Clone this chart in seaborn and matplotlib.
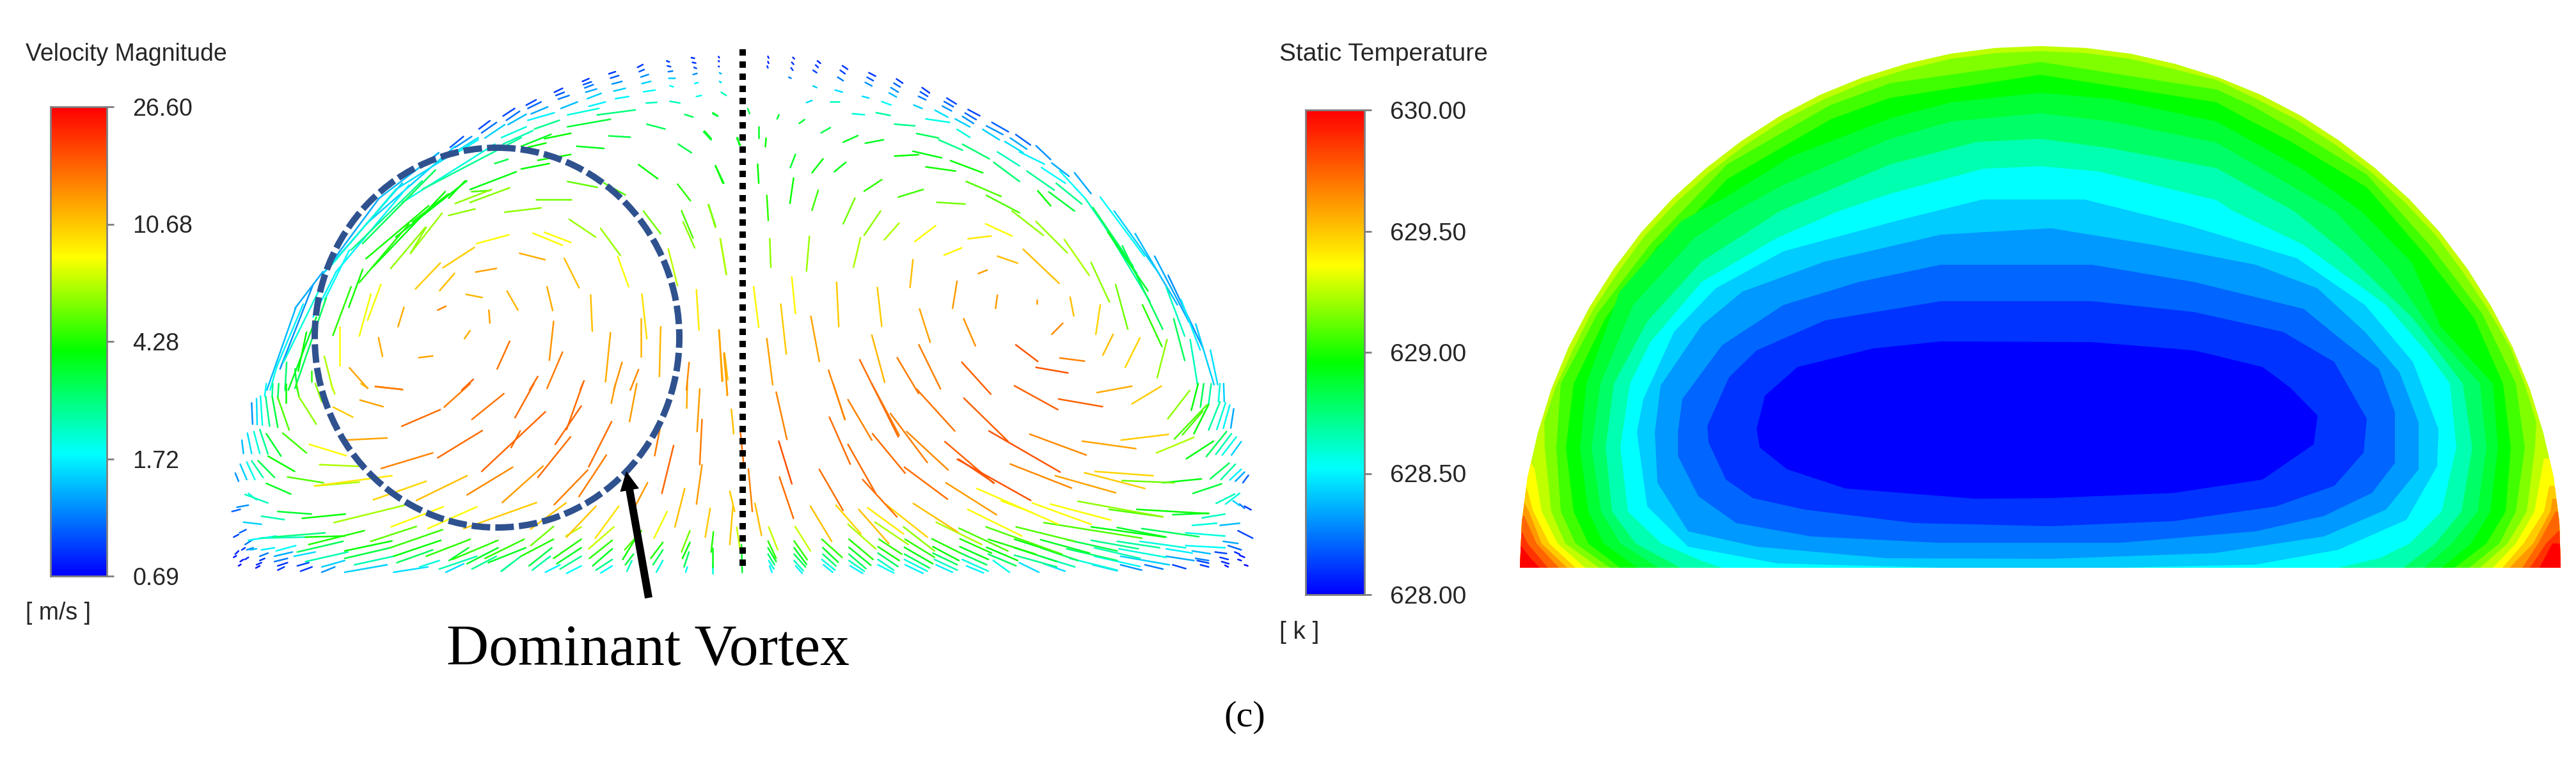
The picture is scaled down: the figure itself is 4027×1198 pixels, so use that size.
import numpy as np
import pandas as pd
import matplotlib
matplotlib.use('Agg')
import matplotlib.pyplot as plt
from matplotlib.colors import LinearSegmentedColormap, LogNorm
from matplotlib.patches import Ellipse, Polygon
import seaborn as sns

W, H = 4027, 1198

vel_ticks = ['26.60', '10.68', '4.28', '1.72', '0.69']
temp_ticks = ['630.00', '629.50', '629.00', '628.50', '628.00']
vel_min, vel_max = 0.69, 26.60

vec_lower_right = [
(85,40,118,262,14.6),(93,270,133,470,18.6),(95,438,138,632,16),(0,400,12,600,14.6),(20,562,40,712,11),(62,672,90,780,7),
(143,670,190,785,7),(190,575,255,740,11),
(60,738,85,820,4.5),(60,770,85,835,3.5),(60,800,80,850,2.8),(62,830,78,870,2),(65,855,72,885,1.7),
(140,738,180,826,4.6),(140,770,178,848,3.6),(140,800,175,860,3),(140,830,168,878,2.2),(145,855,165,890,1.7),
(225,730,287,815,4.6),(228,770,275,838,3.6),(228,800,268,855,2.8),(225,825,265,875,2),(230,850,258,885,1.7),
(308,730,382,825,4.4),(308,768,375,852,3.6),(308,800,360,868,3),(308,830,355,880,2.2),(312,855,350,890,1.7),
(400,730,470,800,4.6),(397,765,462,830,4.2),(397,795,458,858,3),(397,825,445,875,2.2),(397,850,445,888,1.8),
(480,730,570,815,4.5),(478,768,565,845,3.8),(478,800,555,865,3),(478,825,548,880,2),(480,850,535,890,1.7),
(562,728,650,795,4.4),(565,765,645,830,3.9),(565,795,640,850,3),(570,825,640,875,2.2),(575,850,625,885,1.7),
(648,728,745,795,4.3),(648,765,735,825,3.8),(650,795,730,850,3),(655,825,735,880,2),(668,855,720,888,1.7),
(735,730,880,800,4.3),(730,768,825,830,3.9),(735,800,820,855,3),(750,830,800,885,1.9),
(815,730,960,800,3.8),(815,770,945,835,3.3),(815,805,945,860,2.6),(830,840,890,885,1.6),
(895,732,1045,795,3.6),(895,770,1010,830,3.1),(895,810,1000,860,2.3),(905,845,970,880,1.6),
(975,732,1130,785,3.2),(975,775,1130,830,2.8),(985,820,1130,875,2),(1055,850,1130,878,1.5),
(1050,735,1195,775,2.6),(1060,770,1200,820,2.3),(1060,810,1200,858,1.8),(1140,850,1205,875,1.2),
(1130,740,1260,770,2.4),(1135,775,1280,815,2),(1140,810,1290,850,1.5),(1215,850,1270,870,1.1),
(1200,740,1340,770,2),(1280,775,1360,795,1.7),(1280,810,1365,830,1.3),(1300,850,1340,868,.9),
(1340,760,1460,770,1.8),(1360,785,1415,798,1.4),(1370,820,1410,830,1.1),(1375,830,1410,842,.9),(1385,850,1410,860,.85),
(1455,740,1500,750,1.3),(1470,760,1510,780,1),(1430,790,1465,797,.9),(1445,815,1470,825,.85),(1450,835,1472,845,.8),(1460,852,1470,860,.75),
(1490,790,1505,800,.8),(1505,805,1520,815,.75),(1500,825,1510,830,.75),(1520,850,1530,855,.72),
(305,660,390,775,6.5),(338,590,430,750,11),(365,582,475,705,9),(388,650,490,755,6.5),(420,565,548,720,10),(475,672,570,785,6),
(505,562,640,695,11),(575,650,715,755,6.5),(645,678,795,785,5),(672,590,838,715,8.25),(728,672,960,800,5),(820,672,1000,740,5),
(905,652,1205,725,5),(1050,672,1275,720,3.8),(1130,675,1280,720,3.6),(1205,680,1380,718,3),(1340,700,1460,715,2),(1360,665,1435,655,2),(1445,665,1505,655,1.4),
(268,570,345,705,10),(350,450,455,625,16),(1010,552,1270,625,6),(1105,590,1270,625,5),(1190,590,1410,610,4),(1300,615,1410,608,3.5),(1390,630,1460,612,2.2),
(605,465,760,615,13),(700,492,950,660,8.25),(775,550,870,605,8),(870,560,1050,660,8.25),(925,565,1110,640,8.25),(640,355,865,548,18),(478,392,610,542,16),
(217,402,290,595,16),(305,285,390,515,16),(380,235,480,420,16),(248,157,312,378,16),(305,75,378,265,14.6),(260,0,295,168,13),(378,0,462,242,15),(435,140,548,370,15),
(485,225,612,405,14),(515,25,632,222,15.5),(602,272,752,468,17),(660,68,795,270,17),(737,222,955,415,18),(815,10,948,122,17),(950,72,1085,108,17),(1068,42,1175,12,12),
(1175,95,1265,12,10.5),(862,237,1035,335,14),(1023,270,1187,305,12.5),(802,377,990,490,14),(940,432,1125,512,12.5),(1030,418,1215,492,10.5),(1062,412,1240,432,10),
(1142,265,1287,238,10.5),(1250,325,1365,252,6.5),(1285,165,1352,32,6),(1145,455,1305,465,5.5),(1270,465,1388,447,3.8),(1305,260,1405,100,5),(1330,240,1392,130,5),
(1365,235,1410,98,4),(1342,352,1425,270,3.8),(1403,342,1465,225,3),(1432,332,1480,235,2.3),(1452,335,1495,250,1.9),(1480,335,1510,272,1.5),(1410,218,1445,85,2.4),
(1435,215,1462,90,2),(1455,210,1475,100,1.7),(1478,208,1487,118,1.3),(1357,125,1378,0,4),(1385,110,1395,0,3),(1410,95,1418,0,2.4),(1440,85,1445,0,2),(1458,85,1456,0,1.5),
(1362,515,1450,470,3.4),(1415,447,1473,373,3),(1448,450,1492,378,2.4),(1475,452,1510,402,1.7),(1492,458,1520,415,1.3),(1515,465,1532,430,1),(1433,562,1490,518,2.2),
(1462,565,1505,515,2),(1485,550,1505,572,1.5),(1505,565,1520,585,1.1),(1520,575,1540,592,.85),(645,355,752,465,17.5),(1500,690,1545,725,.9),
]

vec_upper_right = [
(175,15,177,20,.8),(175,30,177,35,.8),(173,43,175,48,.85),(243,18,247,22,.8),(240,32,245,38,.85),(238,48,243,55,.9),(232,75,238,78,1.1),
(310,28,318,35,.8),(305,40,312,47,.85),(298,55,308,62,.9),(298,100,308,105,1.5),(378,42,392,52,.85),(372,55,385,65,.9),(365,75,380,85,1.1),(358,112,378,118,1.6),
(450,62,468,72,.85),(445,75,462,85,.95),(440,90,458,100,1.2),(432,130,450,135,1.6),(405,180,438,183,2),(525,80,542,92,.85),(518,92,535,103,1),(510,105,530,118,1.2),(505,120,525,132,1.4),(485,145,510,155,1.8),
(595,105,615,120,.85),(590,117,610,130,.95),(585,130,605,140,1.1),(572,155,595,165,1.5),(662,135,688,152,.9),(655,145,680,160,1),(650,158,675,172,1.2),(630,170,665,190,1.6),
(720,168,752,186,.9),(712,178,742,197,1),(705,188,735,208,1.2),(685,195,725,218,1.5),(785,205,830,232,1),(770,215,815,240,1.2),(760,225,805,255,1.5),(850,240,890,270,1),(835,250,880,282,1.3),(820,260,870,292,1.6),
(670,205,605,195,1.9),(575,215,520,210,2.6),(640,250,580,237,3),(705,285,640,255,2.6),(490,255,440,265,3.6),(420,243,380,262,3.7),
(345,220,320,235,3.2),(275,197,260,208,3.4),(205,183,200,195,3.4),(120,165,125,180,3.2),(90,250,100,270,3.8),(150,218,150,250,3.6),(170,250,168,275,4),(25,180,38,187,3),(0,232,20,255,3.5),(370,145,345,145,2.2),(295,142,280,148,1.6),(508,185,470,177,2.4),
(725,248,690,225,2),(778,310,705,268,2.8),(648,307,570,288,3.8),(585,298,520,302,4),
(945,312,905,272,1.2),(928,325,860,290,1.7),(860,330,800,290,2.2),(995,360,948,322,1.3),(985,380,920,335,1.8),(955,400,880,345,2.5),(860,375,790,320,2.8),
(760,350,672,315,4),(686,345,605,333,4.2),(1055,410,1010,350,1.3),(1040,425,970,345,1.8),(1030,440,960,380,2.6),(1010,460,940,405,3.4),(945,445,910,402,4),(810,418,715,375,5),(598,398,530,420,4.8),
(485,370,437,403,4.5),(387,320,356,347,3.8),(325,310,295,350,4),(250,297,236,335,3.5),(147,325,150,380,4),(32,330,55,380,3.8),
(712,440,635,435,5.5),(860,465,770,415,5),(925,530,840,460,6),(990,580,905,490,6.2),(1050,645,982,542,6.5),(1105,722,1055,608,6),(1155,800,1122,672,5.5),(1248,850,1195,730,4.5),
(1118,460,1240,640,1.5),(1175,525,1290,730,1.4),(1228,590,1322,780,1.3),(1265,645,1360,855,1.2),(1080,420,1200,590,1.8),(1040,425,1180,640,2.2),(1090,500,1215,720,2.4),(1060,450,1170,620,3),
(1140,560,1250,800,3),(1100,520,1210,690,3.6),(1260,680,1310,820,2.2),(1300,715,1352,860,1.7),(1340,785,1390,960,1.5),(1280,770,1310,890,3),(1325,830,1345,960,2.2),(1380,860,1400,960,1.6),
(800,590,855,610,11),(870,570,968,668,11),(768,497,840,532,8.25),(632,502,575,548,8.25),(720,540,783,532,9),(655,587,703,566,8.5),(532,495,492,543,6.5),(482,460,437,530,6),(412,423,380,497,5.5),
(312,400,295,458,4.8),(245,365,235,438,4),(172,415,176,487,4.5),(13,443,32,507,6),(427,537,408,622,6.5),(288,533,280,633,6.2),(180,540,183,622,6),(45,540,62,643,6.5),(570,600,562,680,11),
(136,678,150,795,8.5),(240,650,250,755,8.5),(362,665,368,793,10.5),(473,680,485,792,10.5),(690,662,678,740,13),(748,640,772,630,13),(800,702,795,740,13),(908,716,908,726,13),(998,708,1008,762,11),
(1080,730,1068,815,10),(978,783,948,815,14),(708,770,740,848,13.5),(588,742,617,838,12.5),(210,728,225,872,10.5),(292,763,315,893,12.5),(42,802,50,950,12.5),(55,870,65,990,13),(172,827,188,960,12.5),
(458,817,493,953,11.5),(425,888,530,1110,16),(586,845,645,972,15),(527,882,585,985,15),(703,895,782,987,17),(850,845,910,893,18),(905,910,992,926,18),(970,883,1037,892,14.5),(1115,815,1087,875,11),
(1188,825,1148,910,10),(1235,940,1262,830,6),(340,918,385,1060,14.5),(100,1095,110,1200,16),(90,1370,100,1440,7),(103,1420,105,1500,3.5),
]

vec_lower_left = [
(1500,695,1493,790,4.4),(1497,770,1497,860,3.8),(1497,850,1497,890,2),(1428,690,1402,790,5.5),(1428,745,1405,820,4),(1425,790,1410,860,3),(1420,860,1415,885,1.8),
(1358,600,1318,725,8),(1345,745,1308,820,4.3),(1345,780,1315,850,3),(1345,830,1325,885,2),(1490,585,1475,720,10.5),(1560,570,1550,755,10.8),(1412,492,1382,672,11),(1550,505,1565,600,10.5),
(1280,690,1228,780,5),(1258,735,1222,825,4.2),(1255,800,1230,850,3.4),(1250,830,1235,880,2.2),(1210,575,1138,725,9.5),(1195,672,1118,775,7),(1190,735,1120,820,4.5),(1190,775,1130,855,3.6),(1190,825,1140,875,2.6),(1190,855,1155,888,1.8),
(1095,672,1048,715,7),(1140,575,1050,720,10.8),(1095,730,1010,820,4.4),(1095,770,1020,845,3.6),(1095,810,1030,870,2.6),(1095,855,1050,890,1.8),
(1010,670,940,760,5.5),(1010,730,910,810,4.4),(1005,770,935,855,3.2),(1000,810,945,875,2.4),(1030,850,985,885,1.7),(920,730,800,820,4.6),(925,770,810,840,3.6),(910,810,850,880,2.6),
(840,735,700,825,4.5),(840,770,745,845,3.6),(835,810,760,870,2.5),(880,845,850,880,1.6),(755,730,620,810,4.5),(750,770,690,830,3.4),(775,810,660,870,2.3),(735,845,680,885,1.6),
(670,685,510,770,4.6),(665,735,520,810,4),(640,780,530,840,3),(660,830,600,860,2),(625,860,520,885,1.6),(590,670,450,740,5.2),(515,738,370,785,4),(510,770,370,820,3.3),(520,810,400,850,2.3),(500,850,370,885,1.5),
(430,690,260,755,4.3),(370,715,250,720,4),(365,740,225,790,3),(380,790,250,835,2.3),(370,830,300,860,1.5),(340,860,300,885,1.2),(310,700,150,720,2.7),(250,720,110,725,2.2),(160,715,75,735,1.8),
(220,760,160,785,1.8),(280,790,215,810,1.6),(260,840,225,855,.9),(270,860,235,880,.85),(90,730,65,755,1.1),(155,770,115,780,1.7),(100,775,80,780,1.4),(210,790,155,810,1.3),(195,820,155,835,1.1),
(195,840,165,855,.85),(185,860,165,875,.85),(135,795,110,810,1.1),(90,770,70,780,1.2),
(110,830,125,820,.85),(100,850,115,840,.8),(98,865,110,855,.75),(35,800,45,785,.8),(55,780,65,770,.85),(30,815,38,808,.75),(50,835,60,825,.75),(65,825,75,815,.8),(45,855,52,848,.72),
(30,720,45,708,.9),(48,700,68,685,1),(115,660,60,650,1.5),(185,638,115,622,2.3),
(205,518,130,468,3.6),(268,612,165,600,3.5),(372,612,240,632,4),(555,570,337,652,6.3),(415,462,280,480,6.5),(305,465,195,438,5),(217,412,135,340,4),(155,440,105,362,3.2),(120,440,85,362,2.4),(95,450,70,368,1.9),
(70,450,50,378,1.5),(45,458,35,420,1.2),(135,560,65,520,2.2),(100,545,75,515,2),(75,570,40,580,1.2),(50,590,25,600,1),(175,340,130,235,3.5),(135,330,110,215,2.5),(110,328,92,225,2),(85,328,72,232,1.6),(60,328,55,265,1.4),
(253,325,180,232,4.8),(375,338,262,285,8.25),(415,388,293,380,6.5),(515,432,277,480,9),(620,458,458,545,10),(745,432,590,548,11),(885,392,745,522,14),(978,387,853,558,13),(958,558,735,680,10.5),(1048,560,940,682,10.8),
(775,578,625,680,8.25),(672,578,512,672,8.25),(640,325,482,398,14.6),(792,220,655,348,16),(663,122,545,200,16),(500,255,370,265,12.5),(858,47,760,168,15.5),(755,0,675,110,15),(950,0,892,160,16),(985,132,790,412,16.5),
(908,222,880,300,16),(1095,105,1015,285,16.5),(1100,0,1050,215,16),(1062,250,962,440,16),(1188,178,1118,390,16),(1172,335,1088,530,15),(1115,405,1012,568,15),(1200,0,1187,92,13),(1265,0,1243,178,13),(1340,180,1320,338,15),
(1378,290,1342,515,16.5),(1298,465,1262,570,13),(1458,25,1450,225,13),(1465,168,1458,380,15),(1465,380,1448,565,13),(1420,0,1418,115,12),(1540,0,1542,55,12),(1555,120,1562,235,11),
(440,20,420,0,11),(548,28,465,13,14.6),(488,108,417,77,12.5),(395,157,335,110,10.5),(283,190,230,62,6),(200,218,165,65,5),(165,205,148,60,3.3),(140,200,128,60,2.6),(118,195,112,58,1.9),(102,192,100,70,1.6),(88,190,85,90,1.2),
(340,48,328,0,7),(300,85,280,0,6),(230,60,222,0,4.8),(190,90,190,0,4),(165,70,168,0,3),(148,60,150,0,2.5),(125,58,130,0,1.8),
]

vec_upper_left = [
(1497,25,1499,30,.8),(1497,45,1499,48,.8),(1497,70,1499,72,.85),(1500,100,1505,105,1.4),(1415,30,1424,33,.8),(1418,52,1428,55,.85),(1423,75,1430,80,.9),(1420,108,1432,103,1.2),
(1340,45,1348,50,.85),(1342,68,1352,72,.9),(1345,95,1358,92,1.1),(1345,125,1365,125,1.5),(1252,75,1268,62,.85),(1257,95,1272,85,.95),(1262,120,1285,108,1.2),(1265,150,1292,140,1.5),(1270,188,1305,180,1.8),
(1165,105,1185,95,.85),(1170,125,1195,113,.95),(1175,152,1205,140,1.2),(1180,185,1215,172,1.5),(1185,220,1225,210,1.7),(1085,140,1105,127,.85),(1088,155,1112,142,.95),(1092,170,1118,155,1.1),(1095,190,1128,175,1.3),(1100,220,1142,195,1.5),
(1000,190,1025,172,.85),(1005,205,1030,190,.95),(1012,222,1045,205,1.1),(1020,265,1070,235,1.4),(915,250,945,225,.9),(920,265,960,235,1),(930,290,980,258,1.3),(920,320,1000,285,1.7),
(845,300,880,265,.9),(855,320,895,278,1.05),(860,340,915,292,1.4),(772,360,805,322,.9),(780,378,825,330,1.05),(790,402,850,340,1.5),
(1360,165,1350,160,1.8),(1435,145,1425,150,1.7),(1500,140,1505,145,1.6),(1445,205,1430,210,1.9),(1380,240,1350,232,2.2),(1310,237,1278,240,2.2),
(1520,205,1505,190,2.2),(1155,235,1105,255,1.7),
(915,350,840,400,2),(935,368,845,430,2.3),(1015,320,940,360,2.6),(1135,265,1040,295,2),(1245,272,1130,295,2.7),(1170,315,1040,350,3.4),(1335,360,1280,338,3),(1420,305,1395,293,3),(1495,300,1480,285,3.5),
(1230,398,1165,392,3.2),(1150,450,1068,440,3.7),(725,395,685,445,.95),(750,395,700,445,1.2),(650,470,620,510,1.1),(770,410,690,485,1.8),(1050,380,970,405,4),(990,385,900,440,3.6),(975,425,920,445,4),(1050,478,950,505,4.2),(860,500,820,520,3.2),(985,520,900,545,4),
(885,558,745,640,3.8),(730,600,680,680,4),(810,640,700,705,6),(805,645,750,650,5),(865,632,745,700,5.8),(1040,603,1130,630,5.3),(945,685,1052,685,5.5),(960,725,850,745,6),(1215,665,1150,610,5),(1415,470,1375,430,3.2),(1475,405,1455,370,3.6),(1313,590,1255,525,4),(1510,610,1488,530,4),(1412,692,1373,615,4.5),(1560,435,1555,400,3.5),
(1125,860,1045,778,6.2),(1200,945,1140,820,6.2),(1322,845,1270,740,5.5),(1420,865,1385,738,5),(1425,910,1390,790,6),(1488,810,1467,710,4.8),(1520,1030,1503,870,6.5),(760,730,680,760,6),
(862,850,765,890,8.25),(1050,885,970,838,8.25),(1025,898,935,842,8.25),(758,908,663,1002,10.5),(972,965,895,935,12),(825,1005,762,1022,12.5),(655,980,580,1100,10.5),(698,1028,653,1108,11),(1075,1095,1030,958,11),(1225,1090,1192,950,8.25),(1373,1085,1345,915,6.8),
(890,1198,857,1110,11.5),(782,1140,733,1125,11.5),(672,1180,647,1198,14),(805,1258,802,1198,12.5),(995,1200,978,1090,12),(1115,1295,1110,1128,11),(1280,1330,1265,1123,9.5),(1438,1290,1430,1103,9),
(545,1185,527,1275,12),(745,1293,728,1330,12),(480,1412,468,1325,12),(632,1410,590,1418,12.5),(865,1342,827,1470,15.5),(998,1250,985,1430,13.5),(1025,1392,978,1560,15),(1170,1302,1155,1530,12),(1262,1235,1262,1415,11.5),(1322,1275,1318,1505,11.5),
(1205,1440,1180,1568,13.5),(1408,1440,1400,1568,14),(1255,1473,1230,1568,14),(1498,1290,1510,1525,11.5),(1515,1395,1525,1520,11),(1090,1525,1078,1568,16),(755,1518,720,1568,17),(950,1505,925,1568,16),(380,1465,435,1560,12.5),(458,1552,540,1565,15),
(612,815,565,935,6),(445,1123,410,1318,8),(475,1080,435,1245,8),(350,1275,350,1455,8.25),(304,1412,330,1568,6.5),(385,1090,330,1315,4.5),(420,1010,378,1185,4.2),
(610,815,505,1005,6),(660,750,565,935,6.2),(560,800,410,1070,4.4),(620,715,430,960,4.2),(670,650,450,1000,4),(735,600,520,860,3.8),(680,660,570,790,4.2),
(520,640,320,1000,2),(600,600,385,920,2.6),(640,550,420,890,3),(650,470,470,680,1.4),(700,440,430,800,1.5),(770,400,520,640,1.6),(820,430,540,700,2),(900,400,600,640,2.5),(560,620,340,1020,1.7),(540,610,300,1030,1.5),(470,680,305,1020,1.3),
(380,920,305,1150,1.8),(340,1020,270,1230,1.7),(300,1020,215,1190,1.3),(270,1080,170,1470,1.2),(218,1185,130,1568,1.4),(240,1170,160,1460,1.7),(290,1100,180,1440,2),(310,1140,215,1560,3),(280,1230,195,1568,3.6),(250,1300,225,1480,4),(265,1480,265,1530,4.5),
(160,1460,140,1568,1.9),(190,1440,185,1568,2.8),(215,1470,222,1568,3.3),
]

# temperature bands, hottest first
band_colors = ['#BFFF00', '#80FF00', '#40FF00', '#00FF00', '#00FF33', '#00FF66', '#00FFB0',
               '#00FFFF', '#00CCFF', '#0099FF', '#0066FF', '#0033FF', '#0000FF']
corner_colors = ['#FFFF00', '#FFCC00', '#FF9900', '#FF6600', '#FF3300', '#FF0000']

dome = [(2376,888),(2379,817),(2388,746),(2404,677),(2425,609),(2452,543),(2485,480),(2523,420),(2566,363),(2614,311),(2667,263),(2723,220),(2783,181),(2846,148),(2912,121),(2979,100),(3049,84),(3119,75),(3190,72),
        (3261,75),(3331,84),(3401,100),(3468,121),(3534,148),(3597,181),(3657,220),(3713,263),(3766,311),(3814,363),(3857,420),(3895,480),(3928,543),(3955,609),(3976,677),(3992,746),(4001,817),(4003,888)]

bands = [
 dome,
 [(2500,888),(2447,850),(2425,800),(2415,700),(2414,660),(2432,605),(2460,545),(2490,485),(2530,425),(2572,368),(2620,317),(2672,270),(2728,227),(2788,188),(2850,156),(2915,129),(2982,108),(3050,92),(3120,83),(3190,80),
  (3260,83),(3330,92),(3398,108),(3465,125),(3530,156),(3592,188),(3652,227),(3708,270),(3760,317),(3808,368),(3850,425),(3890,485),(3925,545),(3948,605),(3965,660),(3963,700),(3950,800),(3920,850),(3877,888)],
 [(2517,888),(2463,850),(2440,800),(2433,700),(2440,600),(2498,489),(2581,381),(2631,329),(2700,257),(2860,165),(2955,130),(3190,97),(3465,140),(3520,165),(3590,205),(3700,273),(3800,385),(3880,490),(3933,600),(3947,700),(3933,800),(3907,850),(3860,888)],
 [(2533,888),(2483,850),(2460,800),(2448,700),(2460,600),(2510,497),(2591,385),(2641,344),(2700,280),(2863,186),(2955,153),(3190,117),(3465,160),(3516,188),(3577,219),(3700,293),(3790,397),(3868,498),(3913,600),(3925,700),(3917,800),(3887,850),(3837,888)],
 [(2560,888),(2507,850),(2483,800),(2470,700),(2480,600),(2532,456),(2628,346),(2700,307),(2800,245),(2955,185),(3050,160),(3190,145),(3300,155),(3465,190),(3600,265),(3691,330),(3770,410),(3815,510),(3897,600),(3905,700),(3893,800),(3863,850),(3817,888)],
 [(2593,888),(2533,850),(2503,800),(2488,700),(2502,600),(2553,477),(2649,372),(2713,330),(2788,289),(2955,217),(3050,190),(3190,177),(3300,190),(3465,223),(3650,330),(3735,420),(3804,519),(3877,600),(3887,700),(3873,800),(3833,850),(3790,888)],
 [(2627,888),(2557,850),(2520,800),(2510,700),(2523,600),(2575,503),(2660,409),(2783,330),(2955,257),(3090,222),(3190,217),(3300,232),(3465,263),(3586,330),(3665,394),(3772,498),(3850,600),(3865,700),(3848,800),(3807,850),(3757,888)],
 [(2692,888),(2660,877),(2597,850),(2545,800),(2533,700),(2548,600),(2580,535),(2660,441),(2778,372),(2875,330),(2955,303),(3100,264),(3190,260),(3280,268),(3465,313),(3491,330),(3601,383),(3730,477),(3794,551),(3830,600),(3840,700),(3817,800),(3767,850),(3720,873),(3655,888)],
 [(2559,676),(2569,624),(2617,519),(2682,451),(2788,393),(2970,344),(3099,312),(3259,312),(3419,352),(3591,404),(3697,477),(3772,566),(3812,671),(3810,729),(3762,813),(3655,860),(3526,883),(3313,888),(3034,888),(2778,881),(2639,855),(2575,792)],
 [(2587,676),(2596,603),(2660,509),(2724,456),(2853,409),(3034,367),(3206,357),(3366,383),(3526,414),(3623,451),(3697,519),(3751,582),(3781,661),(3781,734),(3730,797),(3633,839),(3462,865),(3206,874),(2949,873),(2746,855),(2639,831),(2591,755)],
 [(2623,676),(2630,624),(2692,540),(2788,477),(2906,441),(3034,414),(3270,414),(3430,441),(3601,483),(3665,535),(3719,577),(3744,645),(3744,724),(3708,771),(3633,807),(3526,831),(3313,849),(3034,849),(2831,839),(2714,818),(2655,776),(2623,713)],
 [(2669,666),(2703,590),(2746,548),(2853,501),(3034,471),(3270,471),(3430,488),(3569,519),(3649,566),(3700,655),(3695,708),(3649,760),(3558,792),(3398,815),(3206,823),(2992,818),(2821,797),(2740,779),(2698,750),(2671,692)],
 [(2746,671),(2759,619),(2810,574),(2928,545),(3034,534),(3270,535),(3430,548),(3537,574),(3580,606),(3623,650),(3617,695),(3537,750),(3398,771),(3206,779),(3088,780),(2885,764),(2794,734),(2751,700)],
]

# hot corners, cut off by the dome outline
corners_left = [
 [(2478,888),(2435,850),(2410,800),(2399,733),(2390,717),(2360,717),(2360,888)],
 [(2463,888),(2422,850),(2397,800),(2385,757),(2360,757),(2360,888)],
 [(2450,888),(2410,850),(2390,800),(2380,780),(2360,780),(2360,888)],
 [(2437,888),(2402,850),(2383,807),(2360,807),(2360,888)],
 [(2420,888),(2388,850),(2380,833),(2360,833),(2360,888)],
 [(2407,888),(2390,870),(2379,855),(2360,855),(2360,888)],
]
corners_right = [
 [(3897,888),(3933,850),(3962,800),(3977,717),(4020,717),(4020,888)],
 [(3912,888),(3945,850),(3977,800),(3985,760),(4020,760),(4020,888)],
 [(3923,888),(3960,850),(3987,800),(3990,780),(4020,780),(4020,888)],
 [(3943,888),(3968,850),(3995,800),(4020,800),(4020,888)],
 [(3955,888),(3980,850),(4000,830),(4020,830),(4020,888)],
 [(3970,888),(3990,850),(4002,850),(4020,850),(4020,888)],
]

sns.set_theme(style='white')
plt.rcParams['font.family'] = ['Liberation Sans', 'DejaVu Sans']
text_color = '#262626'

rainbow = LinearSegmentedColormap.from_list(
    'rainbow_cfd', [(0, '#0000FF'), (.26, '#00FFFF'), (.48, '#00FF00'), (.68, '#FFFF00'), (1, '#FF0000')])

fig = plt.figure(figsize=(W / 100, H / 100), dpi=100, facecolor='white')
ax = fig.add_axes([0, 0, 1, 1])


def to_px(segs, left, top, sx, sy):
    rows = []
    for i, (x0, y0, x1, y1, v) in enumerate(segs):
        rows.append((left + x0 / sx, top + y0 / sy, v))
        rows.append((left + x1 / sx, top + y1 / sy, v))
    return rows


rows = (to_px(vec_lower_right, 1170, 600, 1.96, 3) + to_px(vec_upper_right, 1100, 80, 1.742, 1.84)
        + to_px(vec_lower_left, 350, 600, 1.96, 3) + to_px(vec_upper_left, 350, 80, 1.936, 2.958))
df = pd.DataFrame(rows, columns=['x', 'y', 'speed'])
df['seg'] = np.arange(len(df)) // 2
sns.lineplot(data=df, x='x', y='y', units='seg', hue='speed', estimator=None, sort=False, legend=False,
             palette=rainbow, hue_norm=LogNorm(vel_min, vel_max), linewidth=1.8, ax=ax, zorder=2)

# temperature contour
outline = Polygon(dome, closed=True, transform=ax.transData, fc='none', ec='none')
ax.add_patch(outline)
for pts, col in zip(bands, band_colors):
    ax.fill(*zip(*pts), color=col, lw=0, zorder=1)
for group in (corners_left, corners_right):
    for pts, col in zip(group, corner_colors):
        p = ax.fill(*zip(*pts), color=col, lw=0, zorder=1.1)[0]
        p.set_clip_path(outline)

# annotations on the vector plot
ax.plot([1161, 1161], [77, 891], color='black', lw=7.2, dashes=(1, 0.9), dash_capstyle='butt', zorder=4)
ax.add_patch(Ellipse((777, 528), 570, 594, fc='none', ec='#2F528F', lw=7.2, ls=(0, (2.9, 0.8)), zorder=4))
ax.arrow(1014, 935, -35, -198, width=12, head_width=30, head_length=30, length_includes_head=True,
         color='black', lw=0, zorder=5)
ax.text(698, 1018, 'Dominant Vortex', family=['Liberation Serif'], fontsize=66, color='black', va='center')
ax.text(1946, 1122, '(c)', family=['Liberation Serif'], fontsize=42, color='black', va='center', ha='center')

ax.text(40, 85, 'Velocity Magnitude', fontsize=27, color=text_color, va='center')
ax.text(40, 959, '[ m/s ]', fontsize=27, color=text_color, va='center')
ax.text(2000, 85, 'Static Temperature', fontsize=28, color=text_color, va='center')
ax.text(2000, 989, '[ k ]', fontsize=28, color=text_color, va='center')

ax.set_xlim(0, W)
ax.set_ylim(H, 0)
ax.set_axis_off()


def color_bar(x0, x1, y0, y1, labels, size):
    bar = fig.add_axes([x0 / W, 1 - y1 / H, (x1 - x0) / W, (y1 - y0) / H])
    grad = np.linspace(1, 0, 256)[:, None]
    sns.heatmap(grad, ax=bar, cmap=rainbow, vmin=0, vmax=1, cbar=False, xticklabels=False, yticklabels=False)
    for s in bar.spines.values():
        s.set_visible(True)
        s.set_color('#7f7f7f')
        s.set_linewidth(2)
    bar.yaxis.tick_right()
    bar.set_yticks(np.linspace(0, 256, len(labels)))
    bar.set_yticklabels(labels, rotation=0, fontsize=size, color=text_color)
    bar.tick_params(axis='y', right=True, length=8, width=2, color='#7f7f7f', pad=21)


color_bar(79, 167, 167, 901, vel_ticks, 27)
color_bar(2041, 2133, 172, 930, temp_ticks, 28)

fig.savefig('out.png', dpi=100, facecolor='white')
